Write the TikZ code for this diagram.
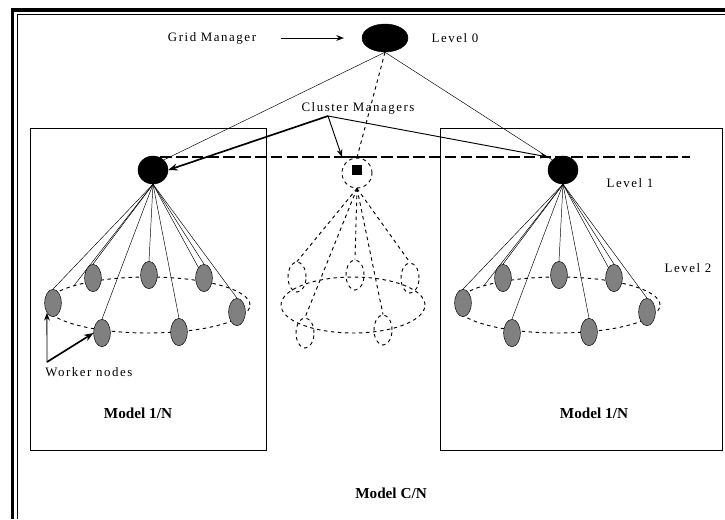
\documentclass[tikz,border=0pt]{standalone}
\usepackage{fontspec}
\setmainfont{Liberation Serif}
\newfontfamily\widefont[LetterSpace=12]{Liberation Serif}
\usepackage{tikz}
\usetikzlibrary{arrows.meta,positioning,shapes.geometric}

\begin{document}
\begin{tikzpicture}[x=0.03cm,y=-0.03cm,
      manager/.style={
         ellipse,
         draw=black,
         fill=black,
         inner sep=0pt,
         minimum width=0.9cm,
         minimum height=0.84cm},
      worker/.style={
         ellipse,
         draw=black,
         fill=gray,
         inner sep=0pt,
         minimum width=0.5cm,
         minimum height=0.82cm},
      ghost_worker/.style={
         ellipse,
         draw=black,
         dashed,
         thick,
         inner sep=0pt,
         minimum width=0.54cm,
         minimum height=0.9cm},
      ring/.style={
         ellipse,
         draw=black,
         dashed,
         thick,
         inner sep=0pt},
      label_txt/.style={
         font=\widefont\fontsize{11}{12}\selectfont,
         inner sep=1pt},
      model_txt/.style={
         font=\bfseries\fontsize{13}{14}\selectfont},
      fan/.style={thin},
      ghost_fan/.style={dashed, thick},
      arrow_black/.style={
        -Stealth,
        thick,
        },
      arrow_bold/.style={
        -{Stealth[length=8pt]},
        line width=0.5mm,
        }
]
      \useasboundingbox (0,0) rectangle (725,519);
      %frame
      \draw[line width=3pt] (12.5,519) -- (12.5,10) -- (725,10);
      \draw (17,519) -- (17,14) -- (725,14);
      \draw[semithick] (30,128) rectangle (266,450);
      \draw[semithick] (440,128) rectangle (722,450);

      %level 0
      \node[manager, minimum width=1.38cm] (gm) at (385,38) {};
      \node[label_txt] (gm_txt) at (212,38) {Grid Manager};
      \coordinate (gm_in) at (344,38);
      \draw[arrow_black, shorten <=20pt] (gm_txt.east) -- (gm_in);
      \node[label_txt] (lvl0) at (455,38) {Level 0};

      %level 1
      \node[label_txt] (cm_txt) at (358,108) {Cluster Managers};
      \coordinate (cm_src) at (328,116);
      \node[manager] (cm1) at (153,170) {};
      \node[manager] (cm2) at (563,170) {};
      \node[circle, draw=black, dashed, thick, minimum size=0.9cm] (cm3) at (357,173) {};
      \node[fill=black, inner sep=0pt, minimum size=0.28cm] (cm3_core) at (357,170) {};
      \node[label_txt] (lvl1) at (630,183) {Level 1};

      \coordinate (l1_left) at (160,157);
      \coordinate (l1_right) at (690,157);
      \coordinate (cm3_in) at (342,157);
      \coordinate (cm3_bar) at (375,157);
      \coordinate (cm2_in) at (548,157);
      \draw[line width=2.2pt, dash pattern=on 10pt off 3.5pt] (l1_left) -- (l1_right);
      \draw[line width=2.2pt] (cm3_in) -- (cm3_bar);

      \draw[fan] (gm.south) -- (cm1.north east);
      \draw[fan] (gm.south) -- (cm2.north west);
      \draw[ghost_fan] (gm.south) -- (cm3.north);

      \draw[arrow_bold] (cm_src) -- (cm1.east);
      \draw[arrow_black] (cm_src) -- (cm3_in);
      \draw[arrow_black] (cm_src) -- (cm2_in);

      %level 2
      \node[label_txt] (lvl2) at (688,268) {Level 2};
      \foreach \c/\x/\m in {l/148/cm1, r/558/cm2}{% cluster/ring centre/manager
        \node[ring, minimum width=6.12cm, minimum height=1.68cm] (ring_\c) at (\x,305) {};
        \draw[fan] (\m.south) -- (ring_\c.165);
        \draw[fan] (\m.south) -- (ring_\c.22);
        \foreach \i/\dx/\dy in {1/-55/-27, 2/1/-30, 3/56/-27, 4/-95/-2, 5/89/7, 6/-46/28, 7/31/27}{
          \node[worker] (w\c\i) at ({\x+\dx},{305+\dy}) {};
          \draw[fan] (\m.south) -- (w\c\i.north);
        }
      }

      %ghost cluster
      \node[ring, minimum width=4.32cm, minimum height=1.68cm] (ring_c) at (353,305) {};
      \foreach \i/\dx/\dy in {1/-56/-28, 2/2/-30, 3/57/-27, 4/-48/28, 5/30/25}{
        \node[ghost_worker] (wc\i) at ({353+\dx},{305+\dy}) {};
        \draw[ghost_fan] (cm3.south) -- (wc\i.north);
      }

      %worker nodes
      \node[label_txt, anchor=west] (wn_txt) at (44,372) {Worker nodes};
      \coordinate (wn_src) at (47,362);
      \draw[arrow_black] (wn_src) -- (wl4.south west);
      \draw[arrow_bold] (wn_src) -- (wl6.west);

      %models
      \node[model_txt] (m1) at (138,413) {Model 1/N};
      \node[model_txt] (m2) at (594,413) {Model 1/N};
      \node[model_txt] (mc) at (391,493) {Model C/N};

\end{tikzpicture}
\end{document}
